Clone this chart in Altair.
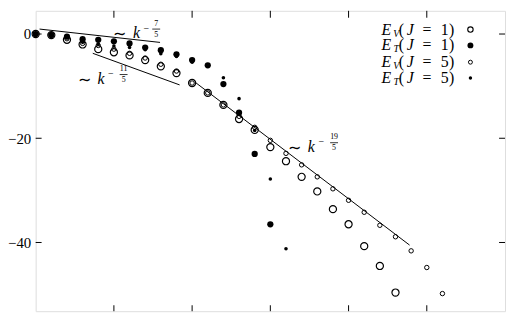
import altair as alt
import pandas as pd

# ---- data ----
STEP = 0.2  # spacing of the k grid (5 points per axis tick)
EV1 = [0, -0.2, -1.1, -2.0, -2.9, -3.5, -4.1, -5.0, -6.2, -7.5, -9.4, -11.3, -13.6,
       -16.3, -18.4, -21.7, -24.4, -27.4, -30.2, -33.6, -36.5, -40.7, -44.5, -49.6]
ET1 = [0, -0.2, -0.5, -1.0, -1.1, -1.4, -1.8, -2.6, -3.1, -3.9, -5.0, -6.0, -9.6,
       -15.1, -23.0, -36.5]
EV5 = [0, -0.1, -0.9, -1.8, -2.2, -2.9, -3.7, -4.6, -5.8, -7.1, -9.4, -11.3, -13.6,
       -15.8, -17.9, -20.4, -22.9, -25.1, -27.4, -29.7, -31.9, -34.2, -36.7, -38.9,
       -41.6, -44.8, -49.8]
ET5 = [0, -0.2, -0.6, -1.6, -1.9, -2.3, -2.6, -3.0, -3.8, -4.3, -5.4, -6.2, -8.4,
       -12.4, -18.5, -27.8, -41.2]

# power-law guide segments (x, y endpoints)
LAW_NAMES = ["7/5", "11/5", "19/5"]
LAW_X = [[0.05, 1.59], [0.73, 1.84], [2.05, 4.78]]
LAW_Y = [[0.95, -1.61], [-3.70, -9.76], [-9.38, -40.5]]

Y_TICKS = [0, -20, -40]
X_TICKS = [1, 2, 3, 4, 5]
LEGEND = ["V", "T", "V", "T"]
LEGEND_J = ["1", "1", "5", "5"]

W, H = 475, 304
FONT = "Liberation Serif"
XS = alt.Scale(domain=[0, 6], nice=False)
YS = alt.Scale(domain=[-53.18, 4.455], nice=False, zero=False)
YAX = alt.Axis(values=Y_TICKS, ticks=False, domain=False, grid=False, title=None,
               labelFont=FONT, labelFontSize=15, labelPadding=5, labelColor="black",
               labelExpr="datum.value < 0 ? '\u2212' + abs(datum.value) : '' + datum.value")


def Y(field="y:Q"):
    return alt.Y(field, scale=YS, axis=YAX)


def X(field="x:Q"):
    return alt.X(field, scale=XS, axis=None)


def series(vals):
    return pd.DataFrame({"x": [STEP * i for i in range(len(vals))], "y": vals})


def pts(vals, filled, size, sw=1.1):
    return alt.Chart(series(vals)).mark_point(
        filled=filled, size=size, color="black", strokeWidth=sw, opacity=1, shape="circle"
    ).encode(x=X(), y=Y())


one = pd.DataFrame({"a": [0]})


def txt(s, px, py, size, style="normal", align="center"):
    # px, py are page-pixel positions of the annotation; plot origin at (36, 9)
    return alt.Chart(one).mark_text(
        text=s, font=FONT, fontSize=size, fontStyle=style, align=align,
        baseline="middle", color="black"
    ).encode(x=alt.value(px - 36), y=alt.value(py - 9))


layers = []

# inward ticks on all four sides
tick_df = pd.DataFrame({"y": Y_TICKS})
layers.append(
    alt.Chart(tick_df).mark_rule(color="black", strokeWidth=1).encode(
        y=Y(), x=alt.value(0), x2=alt.value(6))
)
layers.append(
    alt.Chart(tick_df).mark_rule(color="black", strokeWidth=1).encode(
        y=Y(), x=alt.value(W - 6), x2=alt.value(W))
)
xt_df = pd.DataFrame({"x": X_TICKS})
layers.append(
    alt.Chart(xt_df).mark_rule(color="black", strokeWidth=1).encode(
        x=X(), y=alt.value(0), y2=alt.value(7))
)
layers.append(
    alt.Chart(xt_df).mark_rule(color="black", strokeWidth=1).encode(
        x=X(), y=alt.value(H - 6), y2=alt.value(H))
)

# power-law lines
law_rows = []
for n, xs, ys in zip(LAW_NAMES, LAW_X, LAW_Y):
    for xv, yv in zip(xs, ys):
        law_rows.append({"law": n, "x": xv, "y": yv})
layers.append(
    alt.Chart(pd.DataFrame(law_rows)).mark_line(color="black", strokeWidth=1).encode(
        x=X(), y=Y(), detail="law:N")
)

# data series
layers.append(pts(EV1, False, 52, 1.2))
layers.append(pts(EV5, False, 20, 1.0))
layers.append(pts(ET1, True, 40))
layers.append(pts(ET5, True, 13))


# power-law labels
def law_label(px, py, num):
    out = [txt("∼", px, py, 16), txt("k", px + 17, py - 1, 16, "italic"),
           txt("−", px + 27, py - 6, 10)]
    fx = px + 37 + (3 if len(num) > 1 else 0)
    out.append(txt(num, fx, py - 11, 8))
    out.append(txt("5", fx, py, 8))
    out.append(alt.Chart(one).mark_rule(color="black", strokeWidth=0.8).encode(
        x=alt.value(fx - 4 - 36), x2=alt.value(fx + 4 - 36),
        y=alt.value(py - 5.5 - 9)))
    return out


layers += law_label(121, 33, "7")
layers += law_label(85, 79, "11")
layers += law_label(298, 148, "19")

# legend
ROWS = [28, 44, 61, 77]
LEG_SIZES = [(False, 30, 1.1), (True, 36, 1), (False, 16, 1.0), (True, 12, 1)]
for r, sub, j, (fl, sz, sw) in zip(ROWS, LEGEND, LEGEND_J, LEG_SIZES):
    layers += [
        txt("E", 391, r, 16, "italic"),
        txt(sub, 401, r + 4, 10, "italic"),
        txt("(", 406, r, 16),
        txt("J", 415, r, 16, "italic"),
        txt("=", 432, r, 16),
        txt(j, 450, r, 16),
        txt(")", 457, r, 16),
    ]
    layers.append(alt.Chart(one).mark_point(
        filled=fl, size=sz, color="black", strokeWidth=sw, opacity=1, shape="circle"
    ).encode(x=alt.value(476 - 36), y=alt.value(r - 9)))

chart = alt.layer(*layers).properties(
    width=W, height=H,
    padding={"left": 28, "top": 1, "right": 1, "bottom": 1},
    autosize=alt.AutoSizeParams(type="none"),
).configure_view(stroke="black", strokeWidth=1).configure(background="white")

chart.save("out.html", embed_options={"renderer": "svg", "actions": False})
